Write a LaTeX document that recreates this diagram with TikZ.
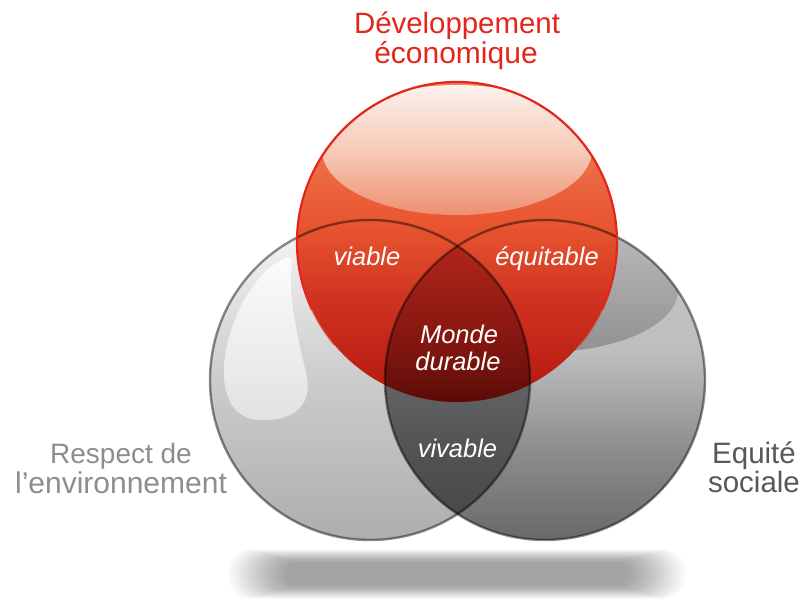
\documentclass[tikz,border=0pt]{standalone}
\usepackage{fontspec}
\setmainfont{Liberation Sans}
\definecolor{titlered}{HTML}{E3261B}
\definecolor{leftlab}{HTML}{8D8D8D}
\definecolor{rightlab}{HTML}{58585A}
% red base
\definecolor{rb0}{HTML}{F07C58}
\definecolor{rb1}{HTML}{EC6A44}
\definecolor{rb2}{HTML}{E8552F}
\definecolor{rb3}{HTML}{CF3220}
\definecolor{rb4}{HTML}{B3180F}
\pgfdeclareverticalshading{redbase}{100bp}{color(0bp)=(rb4); color(25bp)=(rb4); color(40.94bp)=(rb3); color(52.66bp)=(rb2); color(61.25bp)=(rb1); color(75bp)=(rb0); color(100bp)=(rb0)}
% right gray base
\definecolor{gr0}{HTML}{C6C7C9}
\definecolor{gr1}{HTML}{BDBEC0}
\definecolor{gr2}{HTML}{8C8D8F}
\definecolor{gr3}{HTML}{68696B}
\pgfdeclareverticalshading{rightbase}{100bp}{color(0bp)=(gr3); color(25bp)=(gr3); color(39.06bp)=(gr2); color(54.4bp)=(gr1); color(75bp)=(gr0); color(100bp)=(gr0)}
% lens
\definecolor{ln0}{HTML}{6E6F71}
\definecolor{ln1}{HTML}{5E5F61}
\definecolor{ln2}{HTML}{525355}
\definecolor{ln3}{HTML}{434446}
\pgfdeclareverticalshading{lensshade}{100bp}{color(0bp)=(ln3); color(25bp)=(ln3); color(39.06bp)=(ln2); color(46.9bp)=(ln1); color(70.9bp)=(ln0); color(100bp)=(ln0)}
% triple
\definecolor{tr0}{HTML}{B2261A}
\definecolor{tr1}{HTML}{961C14}
\definecolor{tr2}{HTML}{7A140E}
\definecolor{tr3}{HTML}{5A0B07}
\pgfdeclareverticalshading{tripleshade}{100bp}{color(0bp)=(tr3); color(25bp)=(tr3); color(31.56bp)=(tr2); color(40.94bp)=(tr1); color(49.4bp)=(tr0); color(100bp)=(tr0)}
\tikzset{
  outerlab/.style={anchor=base, inner sep=0pt, font=\fontsize{28}{30}\selectfont},
  innerlab/.style={anchor=base, inner sep=0pt, text=white, font=\fontsize{25.5}{27}\selectfont\itshape},
  grayrim/.style={draw=black, draw opacity=0.45, line width=2.4pt},
  redrim/.style={draw=titlered, line width=2.2pt}
}
\begin{document}
\begin{tikzpicture}[x=1pt,y=-1pt]
\fill[white] (0,0) rectangle (804,608);
\useasboundingbox (0,0) rectangle (804,608);
\coordinate (Lc) at (370,380);
\coordinate (Rc) at (545,380);
\coordinate (Rd) at (457,242);
% shadow (soft, stacked layers)
\foreach \i in {0,...,24}{
  \pgfmathsetmacro\rc{23-0.5*\i}
  \fill[black, opacity=0.016, rounded corners=\rc pt] ({228+2.4*\i},{549+0.55*\i}) rectangle ({686-2.4*\i},{599-0.55*\i});
}
% left gray circle
\shade[top color=white!93!gray, bottom color=black!32!white, middle color=black!20!white] (Lc) circle[radius=160];
% teardrop highlight
\shade[top color=white, bottom color=black!9!white, fill opacity=0.85]
  (286,258) .. controls (262,266) and (236,305) .. (227,345)
  .. controls (218,385) and (228,418) .. (258,420)
  .. controls (290,422) and (312,408) .. (307,378)
  .. controls (300,345) and (289,305) .. (291,272)
  .. controls (292,262) and (293,255) .. (286,258) -- cycle;
% right gray circle
\shade[shading=rightbase] (Rc) circle[radius=160];
\begin{scope}
  \clip (Rc) circle[radius=160];
  \shade[top color=black!27!white, bottom color=black!43!white, middle color=black!35!white] (545,290) ellipse[x radius=133, y radius=62];
\end{scope}
% lens of the two gray circles
\begin{scope}
  \clip (Lc) circle[radius=160];
  \shade[shading=lensshade] (Rc) circle[radius=160];
\end{scope}
% red circle
\shade[shading=redbase] (Rd) circle[radius=160];
\begin{scope}
  \clip (Rd) circle[radius=160];
  \shade[top color={rgb,255:red,252;green,241;blue,236}, bottom color={rgb,255:red,237;green,144;blue,112}, middle color={rgb,255:red,246;green,203;blue,184}] (457,150) ellipse[x radius=135, y radius=65];
\end{scope}
% triple intersection
\begin{scope}
  \clip (Lc) circle[radius=160];
  \clip (Rc) circle[radius=160];
  \shade[shading=tripleshade] (Rd) circle[radius=160];
\end{scope}
% outlines
\draw[grayrim] (Lc) circle[radius=160];
\draw[grayrim] (Rc) circle[radius=160];
\draw[redrim] ([shift={(155:160)}]Rd) arc[start angle=155, end angle=385, radius=160];
\draw[redrim, draw opacity=0.45] ([shift={(140:160)}]Rd) arc[start angle=140, end angle=155, radius=160];
\draw[redrim, draw opacity=0.45] ([shift={(385:160)}]Rd) arc[start angle=385, end angle=400, radius=160];
% texts
\node[outerlab, text=titlered, font=\fontsize{29.4}{31}\selectfont] (t1) at (457,33) {Développement};
\node[outerlab, text=titlered, font=\fontsize{30}{31}\selectfont] (t2) at (456,63) {économique};
\node[outerlab, text=leftlab] (l1) at (121,463) {Respect de};
\node[outerlab, text=leftlab, font=\fontsize{30}{31}\selectfont] (l2) at (121,493) {l’environnement};
\node[outerlab, text=rightlab, font=\fontsize{29.5}{31}\selectfont] (r1) at (754,463) {Equité};
\node[outerlab, text=rightlab, font=\fontsize{29.5}{31}\selectfont] (r2) at (754,492) {sociale};
\node[innerlab] (viable) at (367,265) {viable};
\node[innerlab] (equitable) at (547,265) {équitable};
\node[innerlab] (monde) at (459,343) {Monde};
\node[innerlab] (durable) at (458,370) {durable};
\node[innerlab] (vivable) at (457.5,457) {vivable};
\end{tikzpicture}
\end{document}
